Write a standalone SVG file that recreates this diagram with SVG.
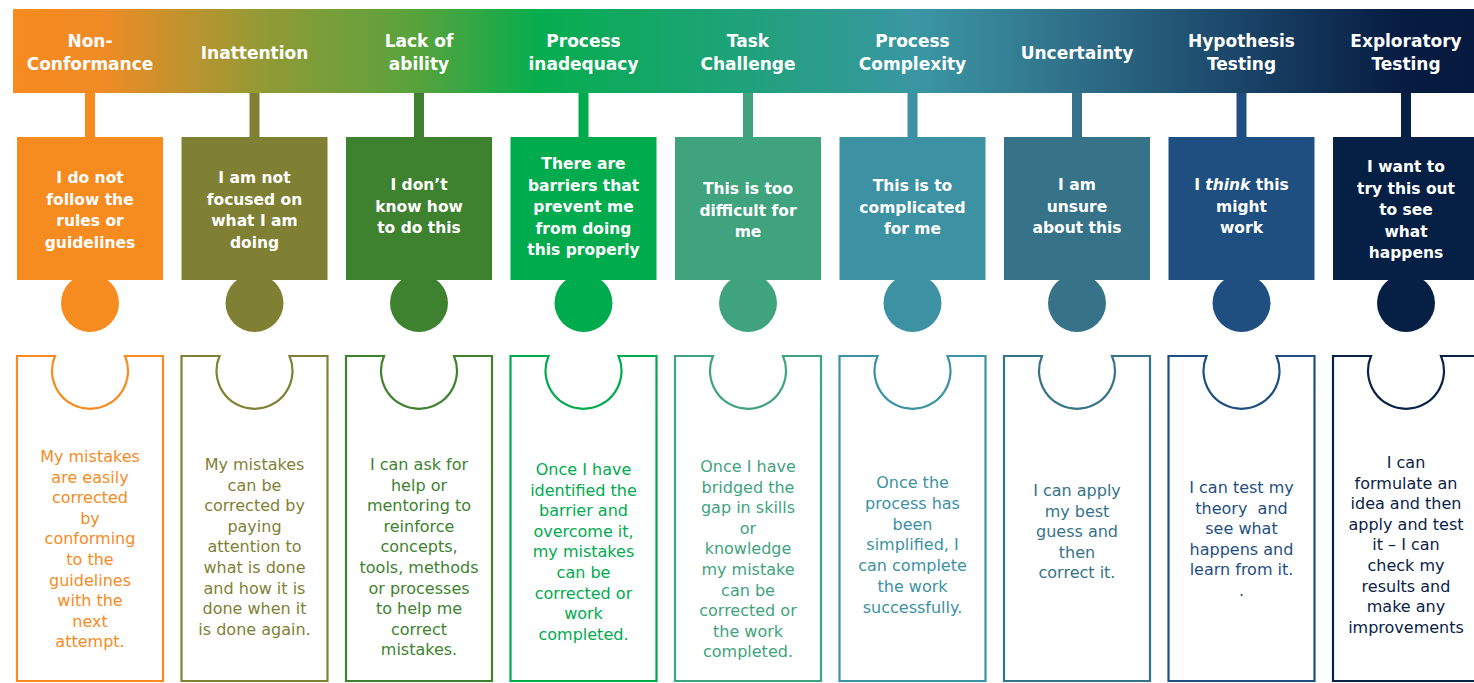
<svg xmlns="http://www.w3.org/2000/svg" width="1474" height="683" viewBox="0 0 1474 683">
<defs>
<linearGradient id="hdr" x1="13" y1="0" x2="1474" y2="0" gradientUnits="userSpaceOnUse">
<stop offset="0" stop-color="#F68B1F"/>
<stop offset="0.06" stop-color="#F08B25"/>
<stop offset="0.17" stop-color="#939A35"/>
<stop offset="0.28" stop-color="#55A33D"/>
<stop offset="0.36" stop-color="#06AD4E"/>
<stop offset="0.50" stop-color="#1FA27A"/>
<stop offset="0.62" stop-color="#3A96A3"/>
<stop offset="0.73" stop-color="#2F6E88"/>
<stop offset="0.84" stop-color="#1A4568"/>
<stop offset="0.95" stop-color="#071C42"/>
<stop offset="1" stop-color="#061A3F"/>
</linearGradient>
<style>
.h{font-family:"DejaVu Sans",sans-serif;font-weight:bold;font-size:17px;fill:#fff;text-anchor:middle}
.p{font-family:"DejaVu Sans",sans-serif;font-weight:bold;font-size:15.5px;fill:#fff;text-anchor:middle}
.b{font-family:"DejaVu Sans",sans-serif;font-size:16px;text-anchor:middle}
.o{fill:#fff;stroke-width:2.2}
</style>
</defs>
<rect width="1474" height="683" fill="#fff"/>
<rect x="13" y="9" width="1461" height="84" fill="url(#hdr)"/>
<g id="header-titles">
<text class="h"><tspan x="90" y="47">Non-</tspan><tspan x="90" y="70">Conformance</tspan></text>
<text class="h" x="254.5" y="59">Inattention</text>
<text class="h"><tspan x="419" y="47">Lack of</tspan><tspan x="419" y="70">ability</tspan></text>
<text class="h"><tspan x="583.5" y="47">Process</tspan><tspan x="583.5" y="70">inadequacy</tspan></text>
<text class="h"><tspan x="748" y="47">Task</tspan><tspan x="748" y="70">Challenge</tspan></text>
<text class="h"><tspan x="912.5" y="47">Process</tspan><tspan x="912.5" y="70">Complexity</tspan></text>
<text class="h" x="1077" y="59">Uncertainty</text>
<text class="h"><tspan x="1241.5" y="47">Hypothesis</tspan><tspan x="1241.5" y="70">Testing</tspan></text>
<text class="h"><tspan x="1406" y="47">Exploratory</tspan><tspan x="1406" y="70">Testing</tspan></text>
</g>
<g id="connectors">
<rect x="85" y="93" width="10" height="45" fill="#F68B1F"/>
<rect x="249.5" y="93" width="10" height="45" fill="#808034"/>
<rect x="414" y="93" width="10" height="45" fill="#3E822F"/>
<rect x="578.5" y="93" width="10" height="45" fill="#00AB4E"/>
<rect x="743" y="93" width="10" height="45" fill="#3FA37E"/>
<rect x="907.5" y="93" width="10" height="45" fill="#3C91A2"/>
<rect x="1072" y="93" width="10" height="45" fill="#367388"/>
<rect x="1236.5" y="93" width="10" height="45" fill="#1F4F80"/>
<rect x="1401" y="93" width="10" height="45" fill="#061F45"/>
</g>
<g id="piece-1" fill="#F68B1F">
<rect x="17" y="137" width="146" height="143"/><circle cx="90" cy="303" r="29"/>
<text class="p"><tspan x="90" y="183">I do not</tspan><tspan x="90" dy="21.5">follow the</tspan><tspan x="90" dy="21.5">rules or</tspan><tspan x="90" dy="21.5">guidelines</tspan></text>
</g>
<g id="piece-2" fill="#808034">
<rect x="181.5" y="137" width="146" height="143"/><circle cx="254.5" cy="303" r="29"/>
<text class="p"><tspan x="254.5" y="183">I am not</tspan><tspan x="254.5" dy="21.5">focused on</tspan><tspan x="254.5" dy="21.5">what I am</tspan><tspan x="254.5" dy="21.5">doing</tspan></text>
</g>
<g id="piece-3" fill="#3E822F">
<rect x="346" y="137" width="146" height="143"/><circle cx="419" cy="303" r="29"/>
<text class="p"><tspan x="419" y="190">I don’t</tspan><tspan x="419" dy="21.5">know how</tspan><tspan x="419" dy="21.5">to do this</tspan></text>
</g>
<g id="piece-4" fill="#00AB4E">
<rect x="510.5" y="137" width="146" height="143"/><circle cx="583.5" cy="303" r="29"/>
<text class="p"><tspan x="583.5" y="169">There are</tspan><tspan x="583.5" dy="21.5">barriers that</tspan><tspan x="583.5" dy="21.5">prevent me</tspan><tspan x="583.5" dy="21.5">from doing</tspan><tspan x="583.5" dy="21.5">this properly</tspan></text>
</g>
<g id="piece-5" fill="#3FA37E">
<rect x="675" y="137" width="146" height="143"/><circle cx="748" cy="303" r="29"/>
<text class="p"><tspan x="748" y="194">This is too</tspan><tspan x="748" dy="21.5">difficult for</tspan><tspan x="748" dy="21.5">me</tspan></text>
</g>
<g id="piece-6" fill="#3C91A2">
<rect x="839.5" y="137" width="146" height="143"/><circle cx="912.5" cy="303" r="29"/>
<text class="p"><tspan x="912.5" y="191">This is to</tspan><tspan x="912.5" dy="21.5">complicated</tspan><tspan x="912.5" dy="21.5">for me</tspan></text>
</g>
<g id="piece-7" fill="#367388">
<rect x="1004" y="137" width="146" height="143"/><circle cx="1077" cy="303" r="29"/>
<text class="p"><tspan x="1077" y="190">I am</tspan><tspan x="1077" dy="21.5">unsure</tspan><tspan x="1077" dy="21.5">about this</tspan></text>
</g>
<g id="piece-8" fill="#1F4F80">
<rect x="1168.5" y="137" width="146" height="143"/><circle cx="1241.5" cy="303" r="29"/>
<text class="p"><tspan x="1241.5" y="190">I <tspan font-style="italic">think</tspan> this</tspan><tspan x="1241.5" dy="21.5">might</tspan><tspan x="1241.5" dy="21.5">work</tspan></text>
</g>
<g id="piece-9" fill="#061F45">
<rect x="1333" y="137" width="146" height="143"/><circle cx="1406" cy="303" r="29"/>
<text class="p"><tspan x="1406" y="172">I want to</tspan><tspan x="1406" dy="21.5">try this out</tspan><tspan x="1406" dy="21.5">to see</tspan><tspan x="1406" dy="21.5">what</tspan><tspan x="1406" dy="21.5">happens</tspan></text>
</g>
<g id="outcome-1">
<path class="o" stroke="#F68B1F" d="M17 356H55A38 38 0 1 0 125 356H163V681H17Z"/>
<text class="b" fill="#F68B1F"><tspan x="90" y="462">My mistakes</tspan><tspan x="90" dy="20.6">are easily</tspan><tspan x="90" dy="20.6">corrected</tspan><tspan x="90" dy="20.6">by</tspan><tspan x="90" dy="20.6">conforming</tspan><tspan x="90" dy="20.6">to the</tspan><tspan x="90" dy="20.6">guidelines</tspan><tspan x="90" dy="20.6">with the</tspan><tspan x="90" dy="20.6">next</tspan><tspan x="90" dy="20.6">attempt.</tspan></text>
</g>
<g id="outcome-2">
<path class="o" stroke="#808034" d="M181.5 356H219.5A38 38 0 1 0 289.5 356H327.5V681H181.5Z"/>
<text class="b" fill="#7F7F35"><tspan x="254.5" y="470">My mistakes</tspan><tspan x="254.5" dy="20.6">can be</tspan><tspan x="254.5" dy="20.6">corrected by</tspan><tspan x="254.5" dy="20.6">paying</tspan><tspan x="254.5" dy="20.6">attention to</tspan><tspan x="254.5" dy="20.6">what is done</tspan><tspan x="254.5" dy="20.6">and how it is</tspan><tspan x="254.5" dy="20.6">done when it</tspan><tspan x="254.5" dy="20.6">is done again.</tspan></text>
</g>
<g id="outcome-3">
<path class="o" stroke="#3E822F" d="M346 356H384A38 38 0 1 0 454 356H492V681H346Z"/>
<text class="b" fill="#3E822F"><tspan x="419" y="470">I can ask for</tspan><tspan x="419" dy="20.6">help or</tspan><tspan x="419" dy="20.6">mentoring to</tspan><tspan x="419" dy="20.6">reinforce</tspan><tspan x="419" dy="20.6">concepts,</tspan><tspan x="419" dy="20.6">tools, methods</tspan><tspan x="419" dy="20.6">or processes</tspan><tspan x="419" dy="20.6">to help me</tspan><tspan x="419" dy="20.6">correct</tspan><tspan x="419" dy="20.6">mistakes.</tspan></text>
</g>
<g id="outcome-4">
<path class="o" stroke="#00AB4E" d="M510.5 356H548.5A38 38 0 1 0 618.5 356H656.5V681H510.5Z"/>
<text class="b" fill="#00AB4E"><tspan x="583.5" y="475">Once I have</tspan><tspan x="583.5" dy="20.6">identified the</tspan><tspan x="583.5" dy="20.6">barrier and</tspan><tspan x="583.5" dy="20.6">overcome it,</tspan><tspan x="583.5" dy="20.6">my mistakes</tspan><tspan x="583.5" dy="20.6">can be</tspan><tspan x="583.5" dy="20.6">corrected or</tspan><tspan x="583.5" dy="20.6">work</tspan><tspan x="583.5" dy="20.6">completed.</tspan></text>
</g>
<g id="outcome-5">
<path class="o" stroke="#3FA37E" d="M675 356H713A38 38 0 1 0 783 356H821V681H675Z"/>
<text class="b" fill="#3FA37E"><tspan x="748" y="472">Once I have</tspan><tspan x="748" dy="20.6">bridged the</tspan><tspan x="748" dy="20.6">gap in skills</tspan><tspan x="748" dy="20.6">or</tspan><tspan x="748" dy="20.6">knowledge</tspan><tspan x="748" dy="20.6">my mistake</tspan><tspan x="748" dy="20.6">can be</tspan><tspan x="748" dy="20.6">corrected or</tspan><tspan x="748" dy="20.6">the work</tspan><tspan x="748" dy="20.6">completed.</tspan></text>
</g>
<g id="outcome-6">
<path class="o" stroke="#3C91A2" d="M839.5 356H877.5A38 38 0 1 0 947.5 356H985.5V681H839.5Z"/>
<text class="b" fill="#3C91A2"><tspan x="912.5" y="488">Once the</tspan><tspan x="912.5" dy="20.8">process has</tspan><tspan x="912.5" dy="20.8">been</tspan><tspan x="912.5" dy="20.8">simplified, I</tspan><tspan x="912.5" dy="20.8">can complete</tspan><tspan x="912.5" dy="20.8">the work</tspan><tspan x="912.5" dy="20.8">successfully.</tspan></text>
</g>
<g id="outcome-7">
<path class="o" stroke="#367388" d="M1004 356H1042A38 38 0 1 0 1112 356H1150V681H1004Z"/>
<text class="b" fill="#367388"><tspan x="1077" y="496">I can apply</tspan><tspan x="1077" dy="20.6">my best</tspan><tspan x="1077" dy="20.6">guess and</tspan><tspan x="1077" dy="20.6">then</tspan><tspan x="1077" dy="20.6">correct it.</tspan></text>
</g>
<g id="outcome-8">
<path class="o" stroke="#1F4F80" d="M1168.5 356H1206.5A38 38 0 1 0 1276.5 356H1314.5V681H1168.5Z"/>
<text class="b" fill="#1F4F80" xml:space="preserve"><tspan x="1241.5" y="493">I can test my</tspan><tspan x="1241.5" dy="20.6">theory  and</tspan><tspan x="1241.5" dy="20.6">see what</tspan><tspan x="1241.5" dy="20.6">happens and</tspan><tspan x="1241.5" dy="20.6">learn from it.</tspan><tspan x="1241.5" dy="20.6">.</tspan></text>
</g>
<g id="outcome-9">
<path class="o" stroke="#0B2247" d="M1333 356H1371A38 38 0 1 0 1441 356H1479V681H1333Z"/>
<text class="b" fill="#0B2247"><tspan x="1406" y="468">I can</tspan><tspan x="1406" dy="20.6">formulate an</tspan><tspan x="1406" dy="20.6">idea and then</tspan><tspan x="1406" dy="20.6">apply and test</tspan><tspan x="1406" dy="20.6">it – I can</tspan><tspan x="1406" dy="20.6">check my</tspan><tspan x="1406" dy="20.6">results and</tspan><tspan x="1406" dy="20.6">make any</tspan><tspan x="1406" dy="20.6">improvements</tspan></text>
</g>
</svg>
